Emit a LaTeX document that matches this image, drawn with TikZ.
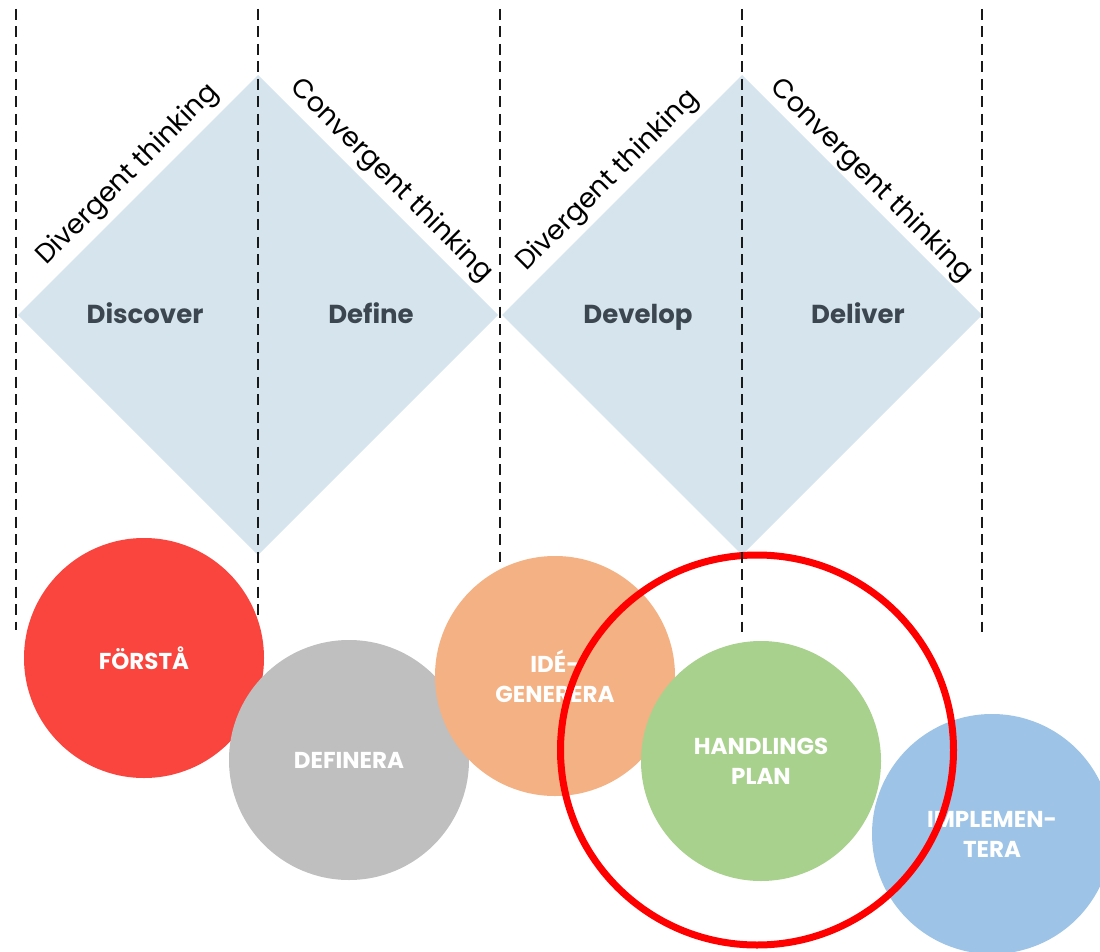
\documentclass[tikz,border=0pt]{standalone}
\usepackage{fontspec}
\setmainfont{Poppins}

\definecolor{mist}{HTML}{D6E4EE}
\definecolor{slate}{HTML}{3B4650}
\definecolor{tomato}{HTML}{F9453E}
\definecolor{ash}{HTML}{BFBFBF}
\definecolor{apricot}{HTML}{F4B183}
\definecolor{sage}{HTML}{A9D18E}
\definecolor{sky}{HTML}{9DC3E6}
\definecolor{ringred}{HTML}{FF0000}

\begin{document}
\begin{tikzpicture}[x=1pt,y=-1pt,
  phase/.style={fill=mist},
  guide/.style={draw=black!90,line width=2.8pt,dash pattern=on 11pt off 6.5pt},
  stage/.style={font=\bfseries\fontsize{26}{30}\selectfont,text=slate,anchor=base},
  mode/.style={font=\fontsize{27}{30}\selectfont,text=black,inner sep=0pt},
  blob/.style={circle,minimum size=240pt,inner sep=0pt,align=center,text=white,
    font=\bfseries\fontsize{23}{30}\selectfont},
  focus/.style={draw=ringred,line width=7pt},
]
\useasboundingbox (0,0) rectangle (1100,952);

% the double diamond
\fill[phase] (18,315) -- (258,75) -- (498,315) -- (258,555) -- cycle;
\fill[phase] (502,315) -- (742,75) -- (982,315) -- (742,555) -- cycle;

\node[stage] (discover) at (145,323) {Discover};
\node[stage] (define) at (371,323) {Define};
\node[stage] (develop) at (638,323) {Develop};
\node[stage] (deliver) at (858,323) {Deliver};

\node[mode,rotate=45] (div1) at (128,175) {Divergent thinking};
\node[mode,rotate=-45] (conv1) at (391,181) {Convergent thinking};
\node[mode,rotate=45] (div2) at (608,181) {Divergent thinking};
\node[mode,rotate=-45] (conv2) at (871,181) {Convergent thinking};

% stages as circles, left to right
\node[blob,fill=tomato] (forsta) at (144,658) {FÖRSTÅ};
\node[blob,fill=ash] (definera) at (349,760) {DEFINERA};
\node[blob,fill=apricot] (ide) at (555,676) {IDÉ-\\GENERERA};
\node[blob,fill=sage] (plan) at (761,761) {HANDLINGS\\PLAN};
\node[blob,fill=sky] (impl) at (992,834) {IMPLEMEN-\\TERA};

\draw[focus] (757,750) ellipse [x radius=196.5,y radius=195];

\foreach \x/\e in {16/630,258/616,500/562,742/632,982/632}
  \draw[guide] (\x,9) -- (\x,\e);
\end{tikzpicture}
\end{document}
